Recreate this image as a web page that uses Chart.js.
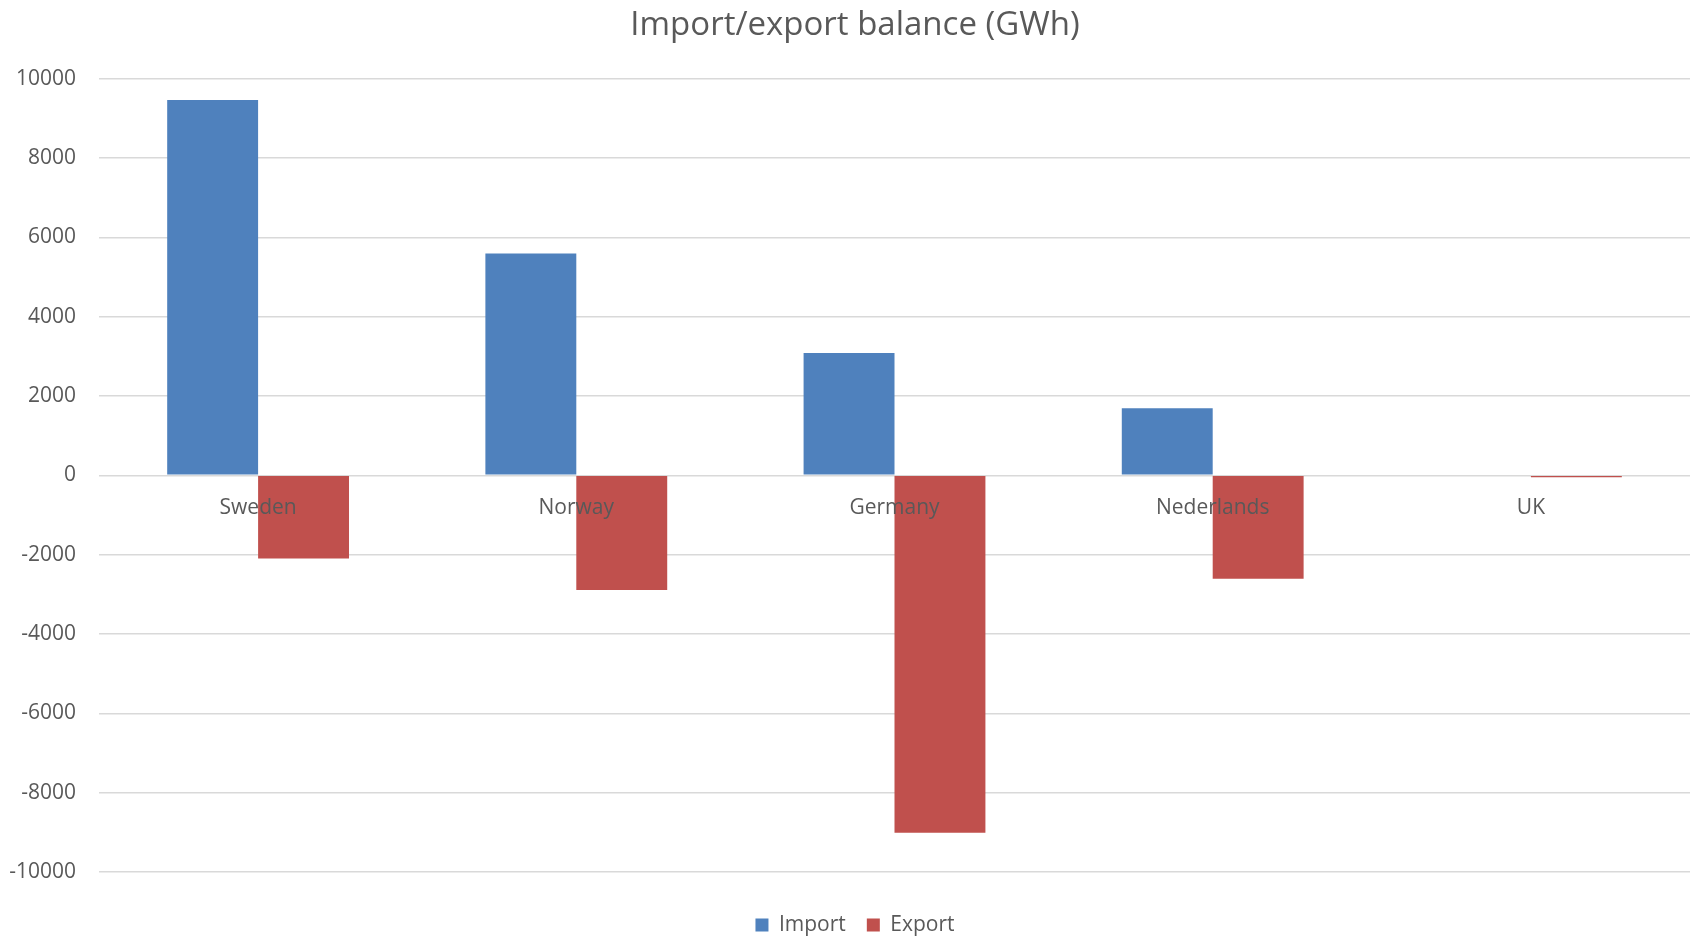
<!DOCTYPE html>
<html>
<head>
<meta charset="utf-8">
<title>Import/export balance (GWh)</title>
<script src="https://cdn.jsdelivr.net/npm/chart.js@4.4.1/dist/chart.umd.min.js"></script>
<style>
  html, body { margin: 0; padding: 0; background: #ffffff; }
  #wrap { width: 1694px; height: 936px; position: relative; }
</style>
</head>
<body>
<div id="wrap"><canvas id="chart"></canvas></div>
<script>
// Countries along the horizontal axis
const countries = ['Sweden', 'Norway', 'Germany', 'Nederlands', 'UK'];

// Yearly electricity exchange per country, GWh
const importGWh = [9460, 5590, 3080, 1690, 0];
const exportGWh = [-2100, -2890, -9010, -2610, -50];

// Value axis ticks
const yTicks = [-10000, -8000, -6000, -4000, -2000, 0, 2000, 4000, 6000, 8000, 10000];

const FONT = '"Open Sans", "Liberation Sans", sans-serif';
const TEXT = '#595959';
const GRID = '#d9d9d9';

new Chart(document.getElementById('chart'), {
  type: 'bar',
  data: {
    labels: countries,
    datasets: [
      {
        label: 'Import',
        data: importGWh,
        backgroundColor: '#4f81bd',
        borderWidth: 0,
        categoryPercentage: 2 / 3.5,
        barPercentage: 1.0
      },
      {
        label: 'Export',
        data: exportGWh,
        backgroundColor: '#c0504d',
        borderWidth: 0,
        categoryPercentage: 2 / 3.5,
        barPercentage: 1.0
      }
    ]
  },
  options: {
    responsive: true,
    maintainAspectRatio: false,
    animation: false,
    layout: { padding: { left: 4, right: -12, top: 0, bottom: -9.5 } },
    plugins: {
      title: {
        display: true,
        text: 'Import/export balance (GWh)',
        color: TEXT,
        font: { family: FONT, size: 33, weight: 'normal', lineHeight: 1.2 },
        padding: { top: 6, bottom: 33 }
      },
      legend: {
        position: 'bottom',
        labels: {
          color: TEXT,
          font: { family: FONT, size: 21 },
          boxWidth: 13,
          boxHeight: 13,
          padding: 21
        }
      },
      tooltip: { enabled: false }
    },
    scales: {
      x: {
        position: { y: 0 },
        grid: { display: false, drawTicks: false },
        border: { display: false },
        ticks: {
          z: 1,
          color: TEXT,
          font: { family: FONT, size: 21 },
          padding: 20,
          maxRotation: 0
        }
      },
      // empty band between the plot and the legend
      xSpace: {
        type: 'category',
        position: 'bottom',
        labels: countries,
        grid: { display: false, drawTicks: false },
        border: { display: false },
        ticks: { display: false },
        afterFit: (scale) => { scale.height = 21.5; }
      },
      y: {
        min: yTicks[0],
        max: yTicks[yTicks.length - 1],
        afterBuildTicks: (scale) => {
          scale.ticks = yTicks.map(v => ({ value: v }));
        },
        afterFit: (scale) => { scale.width = 95; },
        grid: { color: GRID, lineWidth: 1.5, drawTicks: false },
        border: { display: false },
        ticks: {
          color: TEXT,
          font: { family: FONT, size: 21 },
          padding: 23,
          callback: (v) => String(v)
        }
      },
      // empty margin to the right of the plot
      ySpace: {
        type: 'linear',
        position: 'right',
        min: yTicks[0],
        max: yTicks[yTicks.length - 1],
        grid: { display: false, drawTicks: false },
        border: { display: false },
        ticks: { display: false },
        afterFit: (scale) => { scale.width = 16; }
      }
    }
  }
});
</script>
</body>
</html>
